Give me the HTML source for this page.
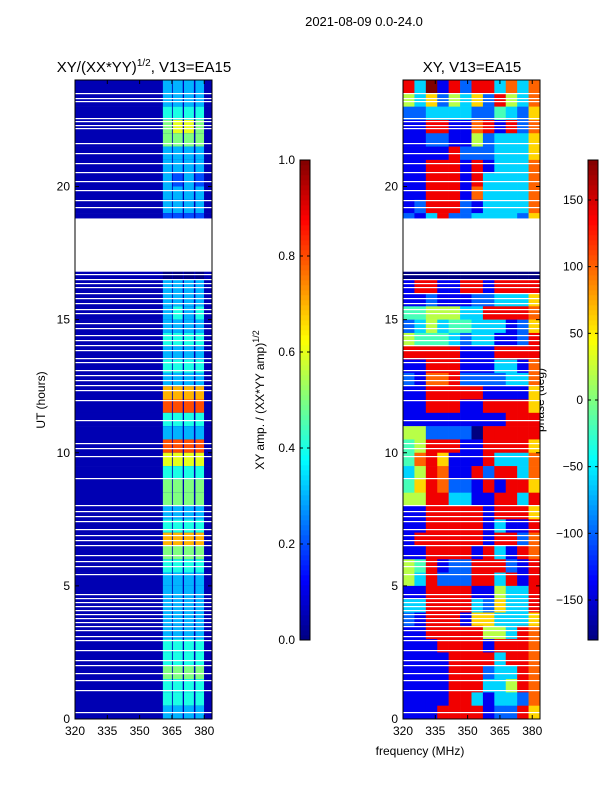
<!DOCTYPE html>
<html><head><meta charset="utf-8"><style>
body{margin:0;background:#fff;}
svg{display:block;font-family:"Liberation Sans","DejaVu Sans",sans-serif;}
</style></head><body>
<svg id="chart" width="600" height="800" xmlns="http://www.w3.org/2000/svg">
<text x="364" y="26" font-size="13" text-anchor="middle">2021-08-09 0.0-24.0</text>
<text x="144" y="72" font-size="15" text-anchor="middle">XY/(XX*YY)<tspan font-size="10" dy="-6">1/2</tspan><tspan dy="6">, V13=EA15</tspan></text>
<text x="472" y="72" font-size="15" text-anchor="middle">XY, V13=EA15</text>
<text x="420" y="755" font-size="12" text-anchor="middle">frequency (MHz)</text>
<text transform="translate(45,400) rotate(-90)" font-size="12" text-anchor="middle">UT (hours)</text>
<text transform="translate(264,400) rotate(-90)" font-size="12" text-anchor="middle">XY amp. / (XX*YY amp)<tspan font-size="9" dy="-5">1/2</tspan></text>
<text transform="translate(544,400) rotate(-90)" font-size="12" text-anchor="middle">phase (deg)</text>
<g id="gL"></g>
<g id="gR"></g>
<g id="axes"></g>
</svg>
<script>
// ---- data ----
const freqMin = 320, freqMax = 383.6, hourMin = 0, hourMax = 24;
const xTicks = [320, 335, 350, 365, 380];
const yTicks = [0, 5, 10, 15, 20];
const ampTicks = [0.0, 0.2, 0.4, 0.6, 0.8, 1.0];
const phaseTicks = [-150, -100, -50, 0, 50, 100, 150];
// amplitude bands (MHz) and per half-hour band intensity (digit/10), rows top (24h) to bottom (0h)
const ampBandStart = [360.8, 365.4, 370.6, 375.9];
const ampBandEnd = [365.0, 370.0, 375.2, 379.9];
const ampBackground = 0.05;
const ampRows = ["3333","3333","4444","5665","5555","3333","3333","3232","3333","3333","2222","0000",
"0000","0000","0000","3333","3333","3434","3333","4444","3333","4444","3333","7777",
"8888","4444","3333","8888","6666","4444","5555","5555","3333","4444","7777","5555",
"4444","3333","3333","3333","3333","3333","4444","4444","5555","4444","4444","3333"];
// phase rows: 12 freq columns, digit 0..9 maps to -180..180
const phaseRows = ["839182883737","536253628537","223333224326","118811781827","112211523336","111182223336",
"118881813337","118881833337","118881733337","128882133337","213822333326","000000000000",
"000000000000","000000000000","000000000000","188118818888","112111223336","445553388887",
"235344333126","544432331128","888881118888","118881113317","217782222337","118888811116",
"118881188886","111111111888","552222088888","458881188886","478611183337","358711828837",
"468722181886","558833118838","118888818886","118888813118","188888818827","118888183187",
"548122888218","538222883818","118888115338","338888326338","218881663336","118888855387",
"111888818887","111188883887","111188823387","111188833587","111188313327","111888812286"];
const dataGapStart = 16.8, dataGapEnd = 18.8;
const missingHours = [23.51,23.32,23.21,22.57,22.46,22.31,22.20,21.63,21.26,20.88,20.54,20.21,19.87,19.49,19.23,
16.71,16.53,16.38,16.23,16.00,15.81,15.62,15.40,15.25,14.87,14.69,14.42,14.24,14.05,13.86,13.56,13.41,13.11,12.92,
12.73,12.54,12.36,11.98,11.23,10.37,10.18,9.88,9.05,8.04,7.81,7.62,7.44,7.14,6.91,6.72,6.54,6.16,5.93,5.75,5.45,
4.69,4.54,4.39,4.24,4.09,3.94,3.79,3.64,3.49,3.34,3.12,2.97,2.59,2.22,2.03,1.73,1.46,1.09,0.26];

// ---- helpers ----
const NS = "http://www.w3.org/2000/svg";
const panelTop = 80, panelBottom = 719, panelW = 137;
const leftX0 = 75, rightX0 = 403;
function yScale(h){ return panelBottom - (h - hourMin) / (hourMax - hourMin) * (panelBottom - panelTop); }
function xScale(x0, f){ return x0 + (f - freqMin) / (freqMax - freqMin) * panelW; }
function jet(v){
  v = Math.max(0, Math.min(1, v));
  const r = Math.max(0, Math.min(1, 1.5 - Math.abs(4*v - 3)));
  const g = Math.max(0, Math.min(1, 1.5 - Math.abs(4*v - 2)));
  const b = Math.max(0, Math.min(1, 1.5 - Math.abs(4*v - 1)));
  return "rgb(" + Math.round(r*255) + "," + Math.round(g*255) + "," + Math.round(b*255) + ")";
}
function rect(g, x, y, w, h, fill){
  const r = document.createElementNS(NS, "rect");
  r.setAttribute("x", x); r.setAttribute("y", y); r.setAttribute("width", w); r.setAttribute("height", h);
  r.setAttribute("fill", fill);
  g.appendChild(r); return r;
}
function line(g, x1, y1, x2, y2, col, w){
  const l = document.createElementNS(NS, "line");
  l.setAttribute("x1", x1); l.setAttribute("y1", y1); l.setAttribute("x2", x2); l.setAttribute("y2", y2);
  l.setAttribute("stroke", col); l.setAttribute("stroke-width", w || 1);
  g.appendChild(l); return l;
}
function text(g, x, y, s, anchor){
  const t = document.createElementNS(NS, "text");
  t.setAttribute("x", x); t.setAttribute("y", y); t.setAttribute("font-size", "12");
  t.setAttribute("text-anchor", anchor); t.textContent = s;
  g.appendChild(t); return t;
}
const gL = document.getElementById("gL"), gR = document.getElementById("gR"), ax = document.getElementById("axes");
const nRows = ampRows.length, rowH = (hourMax - hourMin) / nRows;

// amplitude heatmap
ampRows.forEach((row, i) => {
  const hTop = hourMax - i*rowH, hBot = hTop - rowH;
  const y = yScale(hTop), h = yScale(hBot) - y;
  const bg = rect(gL, leftX0, y, panelW, h + 0.3, jet(ampBackground));
  
  
  for (let b = 0; b < ampBandStart.length; b++){
    const v = parseInt(row[b]) / 10;
    const x1 = xScale(leftX0, ampBandStart[b]), x2 = xScale(leftX0, ampBandEnd[b]);
    const c = rect(gL, x1, y, x2 - x1, h + 0.3, jet(v));
    
    
  }
});
// phase heatmap
phaseRows.forEach((row, i) => {
  const hTop = hourMax - i*rowH, hBot = hTop - rowH;
  const y = yScale(hTop), h = yScale(hBot) - y;
  const nc = row.length, cw = panelW / nc;
  for (let c = 0; c < nc; c++){
    const phase = -180 + parseInt(row[c]) / 9 * 360;
    const cell = rect(gR, rightX0 + c*cw, y, cw + 0.3, h + 0.3, jet((phase + 180) / 360));
    
    
  }
});
// missing data (white)
[leftX0, rightX0].forEach(x0 => {
  const g = x0 === leftX0 ? gL : gR;
  const gy = yScale(dataGapEnd);
  const gap = rect(g, x0, gy, panelW, yScale(dataGapStart) - gy, "#fff");
  
  
  missingHours.forEach(hr => {
    const m = rect(g, x0, Math.round(yScale(hr)), panelW, 1.2, "#fff");
    
    
  });
});
// frames and ticks
[leftX0, rightX0].forEach(x0 => {
  const f = rect(ax, x0, panelTop, panelW, panelBottom - panelTop, "none");
  f.setAttribute("stroke", "#000");
  
  
  xTicks.forEach(v => {
    const x = xScale(x0, v);
    line(ax, x, panelBottom, x, panelBottom - 4, "#000");
    line(ax, x, panelTop, x, panelTop + 4, "#000");
    const t = text(ax, x, panelBottom + 16, String(v), "middle");
    
    
  });
  yTicks.forEach(v => {
    const y = yScale(v);
    line(ax, x0, y, x0 + 4, y, "#000");
    line(ax, x0 + panelW, y, x0 + panelW - 4, y, "#000");
    const t = text(ax, x0 - 5, y + 4, String(v), "end");
    
    
  });
});
// colorbars
function colorbar(x, vmin, vmax, ticks, fmt, name){
  const top = 160, bot = 640, w = 10, n = 96;
  for (let i = 0; i < n; i++){
    const c = rect(ax, x, bot - (i+1)*(bot-top)/n, w, (bot-top)/n + 0.3, jet((i + 0.5)/n));
    
    
  }
  const f = rect(ax, x, top, w, bot - top, "none");
  f.setAttribute("stroke", "#000");
  
  
  ticks.forEach(v => {
    const y = bot - (v - vmin)/(vmax - vmin)*(bot - top);
    line(ax, x, y, x + 3, y, "#000");
    line(ax, x + w, y, x + w - 3, y, "#000");
    const t = text(ax, x - 5, y + 4, fmt(v), "end");
    
    
  });
}
colorbar(300, 0, 1, ampTicks, v => v.toFixed(1), "amp-colorbar");
colorbar(588, -180, 180, phaseTicks, v => v < 0 ? "\u2212" + (-v) : String(v), "phase-colorbar");
</script>
</body></html>
